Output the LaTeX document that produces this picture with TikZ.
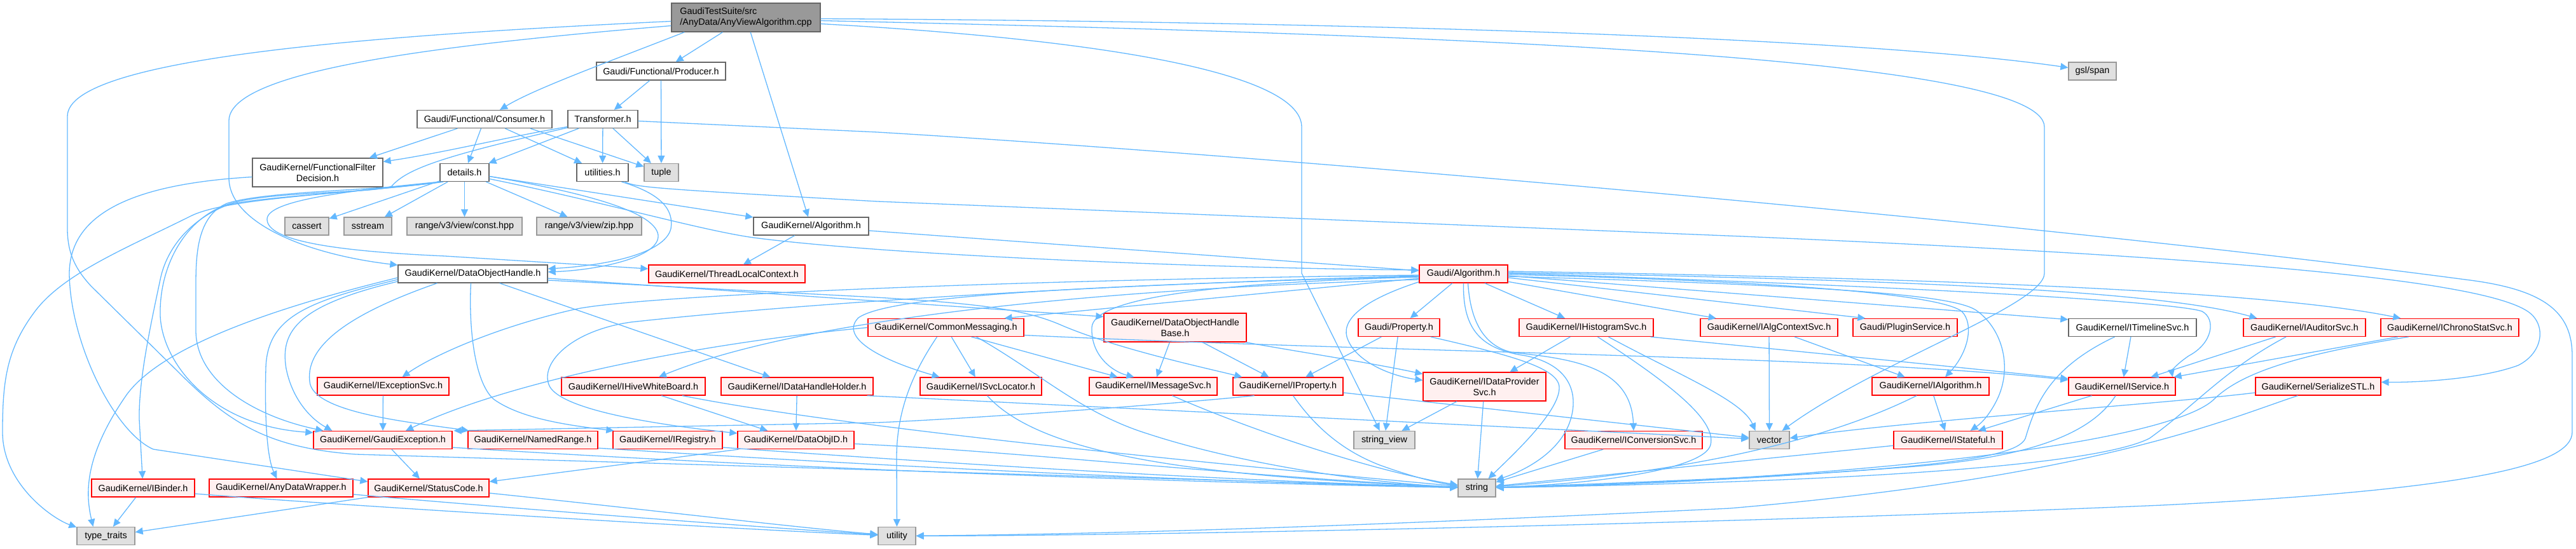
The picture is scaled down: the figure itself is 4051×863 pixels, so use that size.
\documentclass[tikz,border=0pt]{standalone}
\usepackage{fontspec}
\setmainfont{Liberation Sans}
\usetikzlibrary{arrows.meta,calc}
\definecolor{edgec}{HTML}{63B8FF}
\definecolor{redb}{HTML}{FF0000}
\definecolor{redf}{HTML}{FFF0F0}
\definecolor{grayf}{HTML}{E0E0E0}
\definecolor{grayb}{HTML}{999999}
\definecolor{darkb}{HTML}{666666}
\definecolor{mainf}{HTML}{999999}
\tikzset{
  nbase/.style={draw, line width=1.3pt, minimum height=28pt, inner sep=0pt, align=center,
    font=\fontsize{14.4}{16.7}\selectfont, text=black},
  wbox/.style={nbase, draw=darkb, fill=white},
  trunc/.style={nbase, draw=redb, fill=redf},
  sysbox/.style={nbase, draw=grayb, fill=grayf},
  mainbox/.style={nbase, draw=darkb, fill=mainf},
  dep/.style={draw=edgec, line width=1.3pt, -{Triangle[length=12pt,width=11pt]}}
}
\begin{document}
\begin{tikzpicture}[x=1pt,y=-1pt]
\useasboundingbox (0,0) rectangle (4051,863);
% ---------------- nodes
\node[mainbox, minimum width=234pt, minimum height=45pt, align=left] (main) at (1173,27.5) {GaudiTestSuite/src\\/AnyData/AnyViewAlgorithm.cpp};
\node[wbox, minimum width=203pt] (producer) at (1039.5,112) {Gaudi/Functional/Producer.h};
\node[sysbox, minimum width=75pt] (gslspan) at (3290.5,112) {gsl/span};
\node[wbox, minimum width=212pt] (consumer) at (762,187.5) {Gaudi/Functional/Consumer.h};
\node[wbox, minimum width=110pt] (transformer) at (948,187.5) {Transformer.h};
\node[wbox, minimum width=205pt, minimum height=45pt] (ffd) at (499.5,271.5) {GaudiKernel/FunctionalFilter\\Decision.h};
\node[wbox, minimum width=77pt] (details) at (730.5,271.5) {details.h};
\node[wbox, minimum width=81pt] (utilities) at (947.5,271.5) {utilities.h};
\node[sysbox, minimum width=54pt] (tuple) at (1040,271.5) {tuple};
\node[sysbox, minimum width=69pt] (cassert) at (482.5,356) {cassert};
\node[sysbox, minimum width=75pt] (sstream) at (578.5,356) {sstream};
\node[sysbox, minimum width=181pt] (constv) at (730.5,356) {range/v3/view/const.hpp};
\node[sysbox, minimum width=165pt] (zipv) at (926.5,356) {range/v3/view/zip.hpp};
\node[wbox, minimum width=181pt] (kalg) at (1275.5,356) {GaudiKernel/Algorithm.h};
\node[wbox, minimum width=235pt] (doh) at (743.5,431) {GaudiKernel/DataObjectHandle.h};
\node[trunc, minimum width=246pt] (tlc) at (1143,431) {GaudiKernel/ThreadLocalContext.h};
\node[trunc, minimum width=139pt] (galg) at (2301.5,431) {Gaudi/Algorithm.h};
\node[trunc, minimum width=245pt] (cm) at (1487.5,515.5) {GaudiKernel/CommonMessaging.h};
\node[trunc, minimum width=224pt, minimum height=45pt] (dohb) at (1848,515.5) {GaudiKernel/DataObjectHandle\\Base.h};
\node[trunc, minimum width=128pt] (prop) at (2200,515.5) {Gaudi/Property.h};
\node[trunc, minimum width=211pt] (ihist) at (2494.5,515.5) {GaudiKernel/IHistogramSvc.h};
\node[trunc, minimum width=216pt] (ialgctx) at (2782,515.5) {GaudiKernel/IAlgContextSvc.h};
\node[trunc, minimum width=164pt] (plugin) at (2996,515.5) {Gaudi/PluginService.h};
\node[wbox, minimum width=201pt] (itimeline) at (3353.5,515.5) {GaudiKernel/ITimelineSvc.h};
\node[trunc, minimum width=192pt] (iauditor) at (3624,515.5) {GaudiKernel/IAuditorSvc.h};
\node[trunc, minimum width=217pt] (ichrono) at (3852.5,515.5) {GaudiKernel/IChronoStatSvc.h};
\node[trunc, minimum width=207pt] (iexc) at (602.5,608) {GaudiKernel/IExceptionSvc.h};
\node[trunc, minimum width=226pt] (ihive) at (996,608) {GaudiKernel/IHiveWhiteBoard.h};
\node[trunc, minimum width=239pt] (idhh) at (1253.5,608) {GaudiKernel/IDataHandleHolder.h};
\node[trunc, minimum width=191pt] (isvcloc) at (1542.5,608) {GaudiKernel/ISvcLocator.h};
\node[trunc, minimum width=201pt] (imsg) at (1813.5,608) {GaudiKernel/IMessageSvc.h};
\node[trunc, minimum width=173pt] (iprop) at (2025.5,608) {GaudiKernel/IProperty.h};
\node[trunc, minimum width=193pt, minimum height=45pt] (idps) at (2334.5,608.5) {GaudiKernel/IDataProvider\\Svc.h};
\node[trunc, minimum width=184pt] (ialg) at (3036,608) {GaudiKernel/IAlgorithm.h};
\node[trunc, minimum width=168pt] (iservice) at (3337,608) {GaudiKernel/IService.h};
\node[trunc, minimum width=197pt] (serial) at (3645.5,608) {GaudiKernel/SerializeSTL.h};
\node[trunc, minimum width=218pt] (gexc) at (602,692.5) {GaudiKernel/GaudiException.h};
\node[trunc, minimum width=204pt] (namedrange) at (838,692.5) {GaudiKernel/NamedRange.h};
\node[trunc, minimum width=172pt] (iregistry) at (1050,692.5) {GaudiKernel/IRegistry.h};
\node[trunc, minimum width=183pt] (dataobjid) at (1251.5,692.5) {GaudiKernel/DataObjID.h};
\node[sysbox, minimum width=96pt] (stringview) at (2177,692.5) {string\_view};
\node[trunc, minimum width=216pt] (iconv) at (2569,692.5) {GaudiKernel/IConversionSvc.h};
\node[sysbox, minimum width=63pt] (vector) at (2782.5,692.5) {vector};
\node[trunc, minimum width=171pt] (istateful) at (3063.5,692.5) {GaudiKernel/IStateful.h};
\node[trunc, minimum width=162pt] (ibinder) at (225,768) {GaudiKernel/IBinder.h};
\node[trunc, minimum width=226pt] (adw) at (442,768) {GaudiKernel/AnyDataWrapper.h};
\node[trunc, minimum width=190pt] (statuscode) at (674,768) {GaudiKernel/StatusCode.h};
\node[sysbox, minimum width=59pt] (string) at (2322.5,768) {string};
\node[sysbox, minimum width=91pt] (typetraits) at (166.5,843.5) {type\_traits};
\node[sysbox, minimum width=59pt] (utility) at (1410.5,843.5) {utility};
% ---------------- edges: main
\draw[dep] (main) -- (producer);
\draw[dep] ($(main.south west)+(21,0)$) .. controls (950,100) and (840,140) .. (consumer);
\draw[dep] (main) -- (kalg);
\draw[dep] ($(main.east)+(0,2)$) .. controls (2000,33) and (2900,55) .. (gslspan);
\draw[dep] ($(main.east)+(0,5)$) .. controls (2300,55) and (3215,90) .. (3215,200) -- (3215,430) .. controls (3215,480) and (2950,570) .. (vector);
\draw[dep] ($(main.east)+(0,10)$) .. controls (1700,60) and (2047,110) .. (2047,200) -- (2047,430) -- (stringview);
\draw[dep] ($(main.west)+(0,13)$) .. controls (700,70) and (360,110) .. (360,190) -- (360,280) .. controls (360,350) and (480,400) .. (doh);
\draw[dep] ($(main.west)+(0,6)$) .. controls (600,55) and (106,90) .. (106,183) -- (106,360) .. controls (106,400) and (120,425) .. (143,450) -- (280,585) .. controls (360,665) and (420,705) .. (560,715) -- (string);
% producer
\draw[dep] (producer) -- (transformer);
\draw[dep] (producer) -- (tuple);
% consumer
\draw[dep] ($(consumer.south west)+(64,0)$) -- ($(ffd.north east)+(-22,0)$);
\draw[dep] (consumer) -- (details);
\draw[dep] (consumer) -- (utilities);
\draw[dep] ($(consumer.south)+(72,0)$) -- (tuple);
% transformer
\draw[dep] (transformer) -- (details);
\draw[dep] (transformer) -- (utilities);
\draw[dep] (transformer) -- (tuple);
\draw[dep] ($(transformer.west)+(0,12)$) .. controls (800,215) and (700,240) .. ($(ffd.east)+(0,-17)$);
\draw[dep] ($(transformer.west)+(0,13.5)$) .. controls (700,245) and (640,265) .. (616,293) .. controls (590,305) and (420,300) .. (357,322) .. controls (290,345) and (250,420) .. (252,497) .. controls (255,570) and (330,670) .. ($(gexc.north west)+(0,3)$);
\draw[dep] ($(transformer.east)+(0,3)$) -- (1380,208) .. controls (2000,245) and (3200,350) .. (3877,440) .. controls (4000,455) and (4045,490) .. (4045,560) -- (4045,680) .. controls (4045,730) and (3900,770) .. (3400,795) .. controls (2700,825) and (1800,843) .. (utility);
% details
\draw[dep] (details) -- (constv);
\draw[dep] (details) -- (zipv);
\draw[dep] (details) -- (cassert);
\draw[dep] (details) -- (sstream);
\draw[dep] (details) -- (kalg);
\draw[dep] ($(details.east)+(0,10)$) .. controls (950,318) and (1100,362) .. (1185,374) .. controls (1400,402) and (1900,422) .. ($(galg.west)+(0,-6)$);
\draw[dep] ($(details.east)+(0,6)$) .. controls (900,300) and (1030,330) .. (1035,370) .. controls (1038,405) and (940,425) .. ($(doh.east)+(0,-3)$);
\draw[dep] (details.south west) .. controls (550,300) and (420,315) .. (420,345) .. controls (420,378) and (520,395) .. (700,403) -- ($(tlc.west)+(0,-8)$);
\draw[dep] ($(details.south west)+(2,0)$) .. controls (560,305) and (360,310) .. (300,340) .. controls (200,390) and (100,430) .. (55,490) .. controls (10,550) and (4,600) .. (4,680) .. controls (4,760) and (80,815) .. ($(typetraits.north west)+(0,1)$);
\draw[dep] ($(details.south west)+(4,0)$) .. controls (600,300) and (400,310) .. (357,323) .. controls (300,345) and (262,390) .. (252,440) .. controls (235,520) and (218,600) .. (219,660) -- (ibinder);
\draw[dep] ($(details.south west)+(6,0)$) .. controls (600,300) and (420,300) .. (357,320) .. controls (310,340) and (308,400) .. (308,450) -- (308,520) .. controls (308,600) and (400,655) .. ($(gexc.north west)+(16,0)$);
% utilities
\draw[dep] ($(utilities.south)+(30,0)$) .. controls (1040,305) and (1060,330) .. (1055,360) .. controls (1045,400) and (950,418) .. ($(doh.east)+(0,-8)$);
\draw[dep] ($(utilities.south east)+(-6,0)$) .. controls (1000,295) and (1030,297) .. (1380,317) -- (2740,372) .. controls (3500,405) and (3900,440) .. (3975,490) .. controls (4005,510) and (4000,555) .. (3960,575) .. controls (3900,597) and (3800,602) .. ($(serial.north east)+(0,8)$);
% kalg
\draw[dep] ($(kalg.east)+(0,7)$) -- ($(galg.west)+(0,-5)$);
\draw[dep] (kalg) -- (tlc);
% doh
\draw[dep] ($(doh.west)+(0,9)$) .. controls (480,475) and (420,500) .. (418,580) .. controls (416,660) and (420,720) .. (adw);
\draw[dep] ($(doh.west)+(0,12)$) .. controls (470,480) and (440,520) .. (450,580) .. controls (460,630) and (490,660) .. ($(gexc.north west)+(30,0)$);
\draw[dep] ($(doh.south)+(-56,0)$) .. controls (560,490) and (480,540) .. (487,600) .. controls (490,650) and (650,665) .. ($(namedrange.north west)+(2,0)$);
\draw[dep] ($(doh.west)+(0,6)$) .. controls (450,480) and (260,540) .. (200,620) .. controls (130,720) and (135,780) .. ($(typetraits.north)+(-20,0)$);
\draw[dep] ($(doh.south)+(-3,0)$) .. controls (737,510) and (745,600) .. (776,628) .. controls (820,660) and (900,670) .. ($(iregistry.north west)+(2,0)$);
\draw[dep] (doh) -- (idhh);
\draw[dep] ($(doh.east)+(0,7)$) -- ($(dohb.north west)+(0,6)$);
\draw[dep] ($(doh.east)+(0,10)$) -- (1360,467) .. controls (1560,478) and (1620,490) .. (1672,513) .. controls (1760,550) and (1900,580) .. ($(iprop.north west)+(15,0)$);
% galg
\draw[dep] ($(galg.west)+(0,7)$) -- ($(cm.north)+(92,0)$);
\draw[dep] ($(galg.west)+(0,5)$) .. controls (1900,445) and (1720,470) .. (1717,515) .. controls (1715,560) and (1750,585) .. ($(imsg.north)+(-30,0)$);
\draw[dep] ($(galg.west)+(0,2)$) .. controls (1600,440) and (1000,465) .. (903,487) .. controls (780,515) and (680,560) .. ($(iexc.north)+(30,0)$);
\draw[dep] ($(galg.west)+(0,9)$) .. controls (1700,455) and (1250,505) .. ($(ihive.north)+(40,0)$);
\draw[dep] ($(galg.west)+(0,4)$) .. controls (1700,450) and (1400,465) .. (1350,500) .. controls (1320,530) and (1380,565) .. ($(isvcloc.north)+(-65,0)$);
\draw[dep] ($(galg.west)+(0,3)$) .. controls (1500,455) and (1100,495) .. (992,507) .. controls (900,520) and (850,570) .. (863,605) .. controls (875,640) and (1000,665) .. ($(dataobjid.north west)+(0,4)$);
\draw[dep] (galg) -- (prop);
\draw[dep] (galg) -- (ihist);
\draw[dep] (galg) -- (ialgctx);
\draw[dep] ($(galg.east)+(0,6)$) -- ($(plugin.north west)+(20,0)$);
\draw[dep] ($(galg.east)+(0,3)$) -- ($(itimeline.north west)+(0,2)$);
\draw[dep] ($(galg.east)+(0,-2)$) .. controls (3000,440) and (3400,458) .. ($(iauditor.north west)+(22,0)$);
\draw[dep] ($(galg.east)+(0,-4)$) .. controls (3200,440) and (3600,465) .. ($(ichrono.north west)+(32,0)$);
\draw[dep] ($(galg.east)+(0,-1)$) .. controls (3000,450) and (3420,475) .. (3463,490) .. controls (3485,502) and (3480,540) .. (3442,560) .. controls (3420,575) and (3415,585) .. ($(iservice.north east)+(-5,0)$);
\draw[dep] ($(galg.east)+(0,1)$) .. controls (2900,445) and (3060,470) .. (3085,490) .. controls (3105,510) and (3095,555) .. ($(ialg.north)+(23,0)$);
\draw[dep] ($(galg.east)+(0,4)$) .. controls (2900,450) and (3080,465) .. (3110,490) .. controls (3150,520) and (3165,580) .. (3140,630) .. controls (3125,660) and (3110,670) .. ($(istateful.north)+(35,0)$);
\draw[dep] (galg.south) .. controls (2300,520) and (2330,550) .. (2400,560) .. controls (2470,575) and (2482,620) .. (2470,660) .. controls (2455,710) and (2400,740) .. ($(string.north east)+(0,2)$);
\draw[dep] ($(galg.south)+(7,0)$) .. controls (2312,500) and (2330,545) .. (2380,555) .. controls (2480,565) and (2565,580) .. (iconv.north);
\draw[dep] ($(galg.south west)+(0,-2)$) .. controls (2150,470) and (2110,500) .. (2118,530) .. controls (2130,570) and (2190,592) .. ($(idps.west)+(0,-10)$);
% cm
\draw[dep] (cm) -- (isvcloc);
\draw[dep] ($(cm.south)+(40,0)$) -- ($(imsg.north)+(-56,0)$);
\draw[dep] ($(cm.south)+(-14,0)$) .. controls (1440,580) and (1410,640) .. (1410,720) -- (utility);
\draw[dep] ($(cm.south)+(48,0)$) .. controls (1640,590) and (1700,650) .. (1806,683) .. controls (1950,730) and (2150,760) .. (string);
\draw[dep] (cm.west) .. controls (1100,540) and (800,600) .. ($(gexc.north)+(36,0)$);
\draw[dep] ($(cm.east)+(0,12)$) .. controls (2200,555) and (2900,560) .. ($(iservice.west)+(0,-10)$);
% dohb
\draw[dep] (dohb) -- (imsg);
\draw[dep] ($(dohb.south)+(43,0)$) -- ($(iprop.north)+(-30,0)$);
\draw[dep] ($(dohb.south east)+(-2,0)$) .. controls (2050,555) and (2150,570) .. ($(idps.west)+(0,-20)$);
% prop
\draw[dep] (prop) -- (iprop);
\draw[dep] (prop) -- (stringview);
\draw[dep] ($(prop.south)+(50,0)$) .. controls (2380,560) and (2455,580) .. (2452,612) .. controls (2450,650) and (2380,715) .. ($(string.north)+(18,0)$);
% ihist
\draw[dep] (ihist) -- (idps);
\draw[dep] ($(ihist.south)+(18,0)$) .. controls (2620,600) and (2700,660) .. (2690,700) .. controls (2680,740) and (2500,762) .. (string);
\draw[dep] ($(ihist.south)+(35,0)$) .. controls (2640,590) and (2740,630) .. ($(vector.north)+(-22,0)$);
\draw[dep] ($(ihist.south east)+(-5,0)$) .. controls (2900,560) and (3100,580) .. ($(iservice.west)+(0,-12)$);
% ialgctx
\draw[dep] (ialgctx) -- (ialg);
\draw[dep] (ialgctx) -- (vector);
% itimeline
\draw[dep] (itimeline) -- (iservice);
\draw[dep] ($(itimeline.south)+(-28,0)$) .. controls (3220,580) and (3200,640) .. (3185,690) .. controls (3170,725) and (3000,745) .. (string);
% iauditor
\draw[dep] (iauditor) -- (iservice);
\draw[dep] ($(iauditor.south)+(-29,0)$) .. controls (3500,580) and (3450,640) .. (3380,690) .. controls (3280,740) and (2800,760) .. (string);
% ichrono
\draw[dep] (ichrono) -- (iservice);
\draw[dep] ($(ichrono.south)+(-65,0)$) .. controls (3600,560) and (3520,590) .. (3480,630) .. controls (3400,700) and (2900,755) .. (string);
% ialg
\draw[dep] (ialg) -- (istateful);
\draw[dep] ($(ialg.south)+(-22,0)$) .. controls (2900,680) and (2700,740) .. (string);
% iservice
\draw[dep] (iservice) -- (istateful);
\draw[dep] ($(iservice.south)+(-10,0)$) .. controls (3290,680) and (3200,720) .. (3000,735) .. controls (2700,758) and (2500,765) .. (string);
% istateful
\draw[dep] (istateful) -- (string);
% serial
\draw[dep] ($(serial.west)+(0,10)$) .. controls (3400,636) and (3000,662) .. ($(vector.east)+(0,-3)$);
\draw[dep] ($(serial.south)+(-32,0)$) .. controls (3500,660) and (3300,750) .. (2720,800) .. controls (2200,825) and (1800,840) .. (utility);
% iprop
\draw[dep] ($(iprop.south)+(8,0)$) .. controls (2060,660) and (2100,705) .. (2170,732) .. controls (2220,750) and (2260,760) .. (string);
\draw[dep] ($(iprop.east)+(0,10)$) -- ($(vector.west)+(0,-4)$);
\draw[dep] ($(iprop.south)+(-53,0)$) .. controls (1800,640) and (1500,660) .. (1380,665) -- ($(gexc.north east)+(2,0)$);
% idps, iconv
\draw[dep] (idps) -- (stringview);
\draw[dep] (idps) -- (string);
\draw[dep] (iconv) -- (string);
% imsg, isvcloc
\draw[dep] ($(imsg.south)+(30,0)$) .. controls (1950,670) and (2150,740) .. (string);
\draw[dep] ($(isvcloc.south)+(10,0)$) .. controls (1640,720) and (1900,750) .. (string);
% idhh, ihive
\draw[dep] (idhh) -- (dataobjid);
\draw[dep] ($(idhh.south east)+(-10,0)$) -- ($(vector.west)+(0,-2)$);
\draw[dep] (ihive) -- (dataobjid);
\draw[dep] ($(ihive.south)+(77,0)$) .. controls (1300,668) and (1800,720) .. (string);
% iexc, gexc
\draw[dep] (iexc) -- (gexc);
\draw[dep] (gexc) -- (statuscode);
\draw[dep] ($(gexc.south east)+(0,-3)$) .. controls (1200,735) and (1800,758) .. (string);
% namedrange, iregistry, dataobjid
\draw[dep] ($(namedrange.south east)+(0,-2)$) .. controls (1400,735) and (1900,758) .. (string);
\draw[dep] ($(iregistry.south east)+(0,-3)$) .. controls (1500,730) and (1900,755) .. (string);
\draw[dep] ($(dataobjid.east)+(0,6)$) .. controls (1600,710) and (1950,750) .. (string);
\draw[dep] ($(dataobjid.south west)+(2,0)$) -- ($(statuscode.east)+(0,-10)$);
% statuscode, adw, ibinder, ffd
\draw[dep] (statuscode.south west) -- ($(typetraits.east)+(0,-6)$);
\draw[dep] ($(statuscode.east)+(0,8)$) .. controls (1000,800) and (1250,830) .. (utility);
\draw[dep] ($(adw.east)+(0,10)$) .. controls (800,800) and (1200,830) .. (utility);
\draw[dep] ($(ibinder.east)+(0,9)$) .. controls (600,800) and (1200,835) .. (utility);
\draw[dep] (ibinder) -- (typetraits);
\draw[dep] ($(ffd.west)+(0,7)$) .. controls (200,290) and (110,340) .. (109,430) .. controls (110,540) and (180,680) .. (241,707) -- ($(statuscode.west)+(0,-10)$);
\end{tikzpicture}
\end{document}
